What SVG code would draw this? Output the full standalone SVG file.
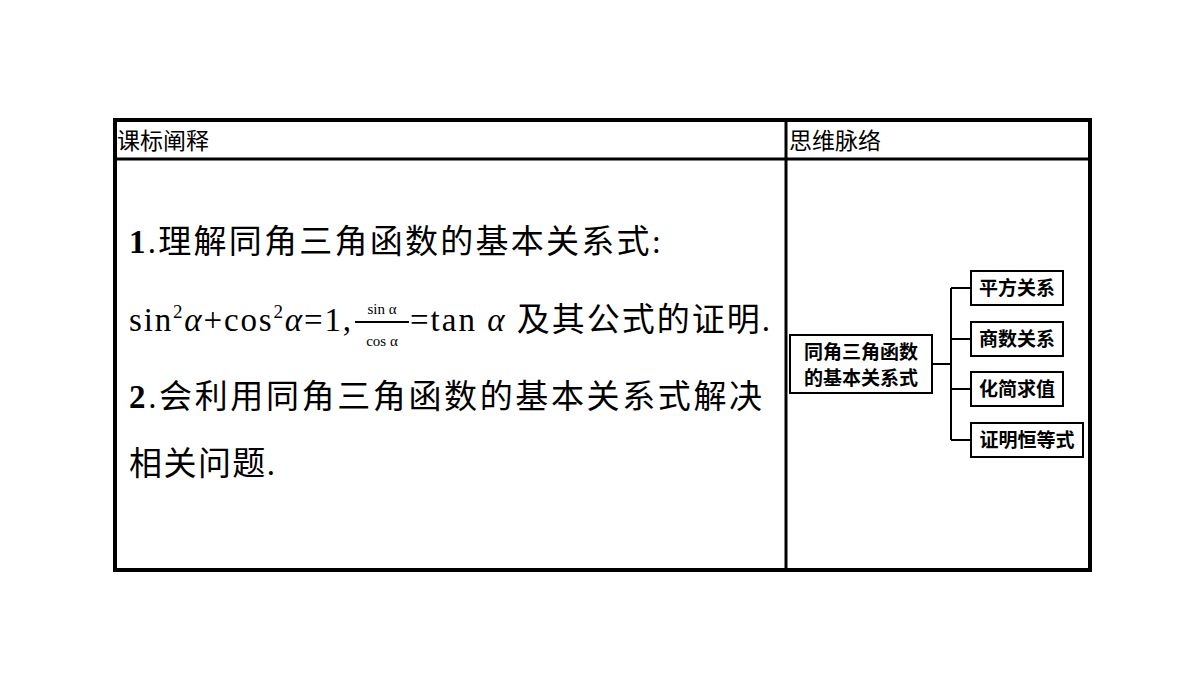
<svg xmlns="http://www.w3.org/2000/svg" width="1200" height="675" viewBox="0 0 1200 675">
<style>
.h{font-family:"Noto Sans CJK SC","Liberation Sans",sans-serif;font-size:23px;fill:#000}
.b{font-family:"Liberation Serif","Noto Sans CJK SC",serif;font-size:33px;fill:#000}
.n{fill:#fff;stroke:#000;stroke-width:2}
.t{font-family:"Noto Sans CJK SC",sans-serif;font-size:19px;font-weight:bold;fill:#000}
.c{fill:none;stroke:#000;stroke-width:2}
</style>
<rect width="1200" height="675" fill="#fff"/>
<g id="table" fill="none" stroke="#000">
<rect x="115" y="120" width="975" height="450" stroke-width="4"/>
<line x1="115" y1="159" x2="1090" y2="159" stroke-width="3"/>
<line x1="786" y1="120" x2="786" y2="570" stroke-width="3"/>
</g>
<text class="h" x="117" y="149">课标阐释</text>
<text class="h" x="789" y="149">思维脉络</text>
<text class="b" x="129" y="253" textLength="532" lengthAdjust="spacing"><tspan font-weight="bold">1</tspan>.理解同角三角函数的基本关系式:</text>
<text class="b" x="129" y="331" textLength="222" lengthAdjust="spacing">sin<tspan font-size="19" dy="-13">2</tspan><tspan font-style="italic" dy="13">α</tspan>+cos<tspan font-size="19" dy="-13">2</tspan><tspan font-style="italic" dy="13">α</tspan>=1,</text>
<line x1="355" y1="322" x2="409" y2="322" stroke="#000" stroke-width="2"/>
<text x="382" y="314" text-anchor="middle" font-family="Liberation Serif,serif" font-size="15">sin α</text>
<text x="382" y="346" text-anchor="middle" font-family="Liberation Serif,serif" font-size="15">cos α</text>
<text class="b" x="410" y="331" textLength="360" lengthAdjust="spacing">=tan <tspan font-style="italic">α</tspan> 及其公式的证明.</text>
<text class="b" x="129" y="408" textLength="633" lengthAdjust="spacing"><tspan font-weight="bold">2</tspan>.会利用同角三角函数的基本关系式解决</text>
<text class="b" x="129" y="475" textLength="146" lengthAdjust="spacing">相关问题.</text>
<g id="connectors">
<path class="c" d="M932 364H951M951 288V440M951 288H971M951 339H971M951 389H971M951 440H971"/>
</g>
<g id="main"><rect class="n" x="790" y="335" width="142" height="58"/><text class="t" x="861" y="359" text-anchor="middle">同角三角函数</text><text class="t" x="861" y="385" text-anchor="middle">的基本关系式</text></g>
<g id="n1"><rect class="n" x="971" y="271" width="92" height="34"/><text class="t" x="1017" y="295" text-anchor="middle">平方关系</text></g>
<g id="n2"><rect class="n" x="971" y="322" width="92" height="34"/><text class="t" x="1017" y="346" text-anchor="middle">商数关系</text></g>
<g id="n3"><rect class="n" x="971" y="372" width="92" height="34"/><text class="t" x="1017" y="396" text-anchor="middle">化简求值</text></g>
<g id="n4"><rect class="n" x="971" y="423" width="112" height="34"/><text class="t" x="1027" y="447" text-anchor="middle">证明恒等式</text></g>
</svg>
